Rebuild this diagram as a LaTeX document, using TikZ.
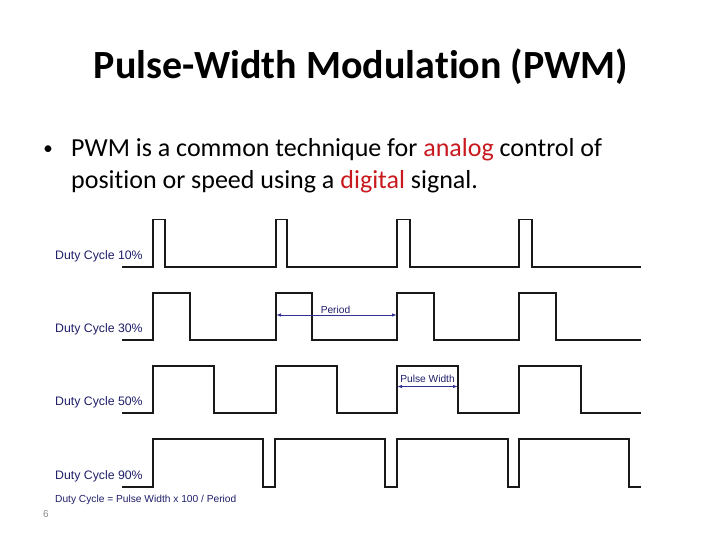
\documentclass[tikz,border=0pt]{standalone}
\usepackage{fontspec}
\setmainfont{Carlito}[Ligatures={NoCommon}, RawFeature={-liga;-clig;-dlig}]
\newfontfamily\arialf{Liberation Sans}
\usetikzlibrary{arrows.meta}
\definecolor{navy}{RGB}{30,30,105}
\definecolor{arrowblue}{RGB}{50,50,150}
\definecolor{hl}{RGB}{200,25,30}
\definecolor{pgnum}{RGB}{140,140,140}
\begin{document}
\begin{tikzpicture}[x=1pt,y=-1pt,
  wave/.style={line width=1.7pt, line join=miter, black!90},
  lbl/.style={font=\arialf\fontsize{12.3}{14}\selectfont, text=navy, anchor=west, inner sep=0pt},
  smalllbl/.style={font=\arialf\fontsize{10.2}{12}\selectfont, text=navy, inner sep=0pt},
  dim/.style={draw=arrowblue, line width=0.9pt, {Latex[length=5pt,width=3.5pt]}-{Latex[length=5pt,width=3.5pt]}},
  bodytext/.style={font=\fontsize{26}{32}\selectfont, anchor=base west, inner sep=0pt}
]
\useasboundingbox (0,0) rectangle (720,540);

% title
\node[font=\bfseries\fontsize{40}{44}\selectfont, anchor=base, inner sep=0pt] (title) at (361,79) {Pulse-Width Modula\kern0pt tion (PWM)};

% bullet text
\node[font=\fontsize{19}{22}\selectfont, anchor=base, inner sep=0pt] (bullet) at (48,155) {•};
\node[bodytext] (line1) at (71,157) {PWM is a common technique for \textcolor{hl}{analog} control of};
\node[bodytext] (line2) at (71,189) {posi\kern0pt tion or speed using a \textcolor{hl}{digital} signal.};

% waveforms
\draw[wave] (122,267) -| (153,219.5) -| (165,267) -| (276,219.5) -| (287,267) -| (397,219.5) -| (410,267) -| (519,219.5) -| (532,267) -- (641,267);
\draw[wave] (122,340) -| (153,293) -| (190,340) -| (276,293) -| (312,340) -| (397,293) -| (434,340) -| (519,293) -| (556,340) -- (641,340);
\draw[wave] (122,413) -| (153,366) -| (214,413) -| (276,366) -| (337,413) -| (397,366) -| (458,413) -| (519,366) -| (581,413) -- (641,413);
\draw[wave] (122,487) -| (153,439) -| (263,487) -| (275,439) -| (385,487) -| (397,439) -| (508,487) -| (519,439) -| (629,487) -- (641,487);

% labels
\node[lbl] (d10) at (55,256) {Duty Cycle 10\%};
\node[lbl] (d30) at (55,329) {Duty Cycle 30\%};
\node[lbl] (d50) at (55,402.5) {Duty Cycle 50\%};
\node[lbl] (d90) at (55,476) {Duty Cycle 90\%};
\node[smalllbl, anchor=west] (formula) at (55,499.5) {Duty Cycle = Pulse Width x 100 / Period};

% period dimension
\coordinate (pA) at (276,315);
\coordinate (pB) at (397,315);
\draw[dim] (pA) -- (pB);
\node[smalllbl] (period) at (335.5,310) {Period};

% pulse width dimension
\coordinate (wA) at (397,386.5);
\coordinate (wB) at (458,386.5);
\draw[dim] (wA) -- (wB);
\node[smalllbl] (pw) at (427.5,378.5) {Pulse Width};

% page number
\node[font=\arialf\fontsize{10}{12}\selectfont, text=pgnum, inner sep=0pt] (pg) at (46,514) {6};
\end{tikzpicture}
\end{document}
